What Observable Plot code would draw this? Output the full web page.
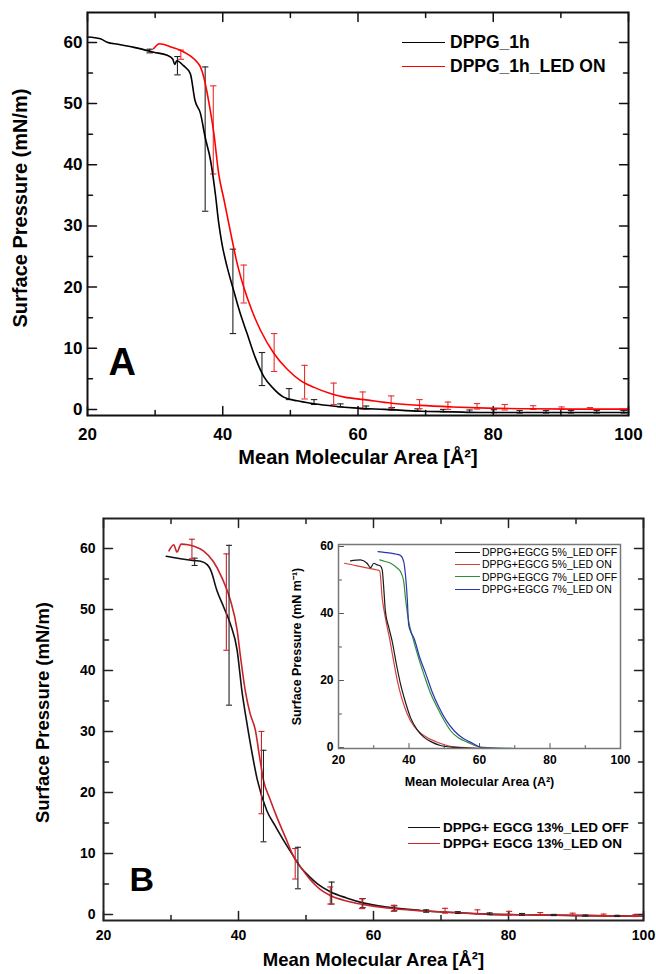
<!DOCTYPE html>
<html><head><meta charset="utf-8">
<script src="https://cdn.jsdelivr.net/npm/d3@7"></script>
<script src="https://cdn.jsdelivr.net/npm/@observablehq/plot@0.6"></script>
<style>
body{margin:0;background:#fff;}
#root{position:relative;width:656px;height:974px;font-family:"Liberation Sans",Arial,sans-serif;overflow:hidden;}
.abs{position:absolute;}
.lrow{position:absolute;display:flex;align-items:center;white-space:nowrap;color:#000;}
.lrow .ln{display:inline-block;}
</style></head>
<body><div id="root"></div>
<script>
// ---------- Panel A data ----------
const aBlackX = [20, 21.9, 22.9, 24.5, 26.9, 29.8, 31.8, 32.6, 32.9, 33.2, 34.2, 35.2, 35.9, 36.7, 37.4, 38.2, 38.9, 39.4, 39.9, 40.6, 41.6, 42.5, 43.6, 44.8, 46.1, 47.5, 49.0, 51, 53, 55.9, 59.9, 64, 69.3, 74, 78, 85, 92, 100];
const aBlackY = [60.9, 60.6, 60.05, 59.7, 59.2, 58.4, 57.9, 57.3, 56.4, 57.0, 56.2, 54.9, 50.5, 48.4, 44.5, 40.7, 35.3, 30.5, 27.0, 23.5, 19.5, 16.0, 12.4, 8.5, 5.3, 3.4, 2.0, 1.4, 1.0, 0.6, 0.2, 0, -0.3, -0.4, -0.5, -0.5, -0.5, -0.5];
const aRedX = [29.8, 30.3, 30.6, 31.2, 32.5, 33.8, 35.2, 36.2, 36.7, 37.2, 37.9, 38.7, 39.4, 40.2, 41.2, 42.1, 43.1, 44.3, 45.6, 47.6, 49.5, 51.5, 53.5, 55.9, 58, 60.9, 65, 69.3, 74, 79.1, 85, 92, 100];
const aRedY = [59.0, 59.6, 59.8, 59.7, 59.2, 58.7, 57.8, 56.8, 56.0, 54.3, 50.5, 45.0, 38.5, 34.2, 28.7, 24.0, 20.0, 16.2, 12.9, 9.1, 6.6, 4.7, 3.6, 2.6, 2.0, 1.6, 1.0, 0.65, 0.4, 0.2, 0.1, 0.05, 0.05];
const aBlackErrX = [29.2, 33.3, 37.4, 41.5, 45.8, 49.8, 53.5, 57.4, 61.2, 65.0, 68.8, 72.6, 76.5, 80.1, 83.9, 87.8, 91.5, 95.3, 99.3];
const aBlackErrY = [58.6, 56.2, 44.2, 19.3, 6.6, 2.5, 1.2, 0.65, 0.3, 0.1, -0.1, -0.2, -0.3, -0.3, -0.4, -0.4, -0.4, -0.4, -0.4];
const aBlackErrE = [0.3, 1.5, 11.8, 6.9, 2.7, 0.9, 0.4, 0.25, 0.25, 0.2, 0.2, 0.2, 0.2, 0.25, 0.2, 0.2, 0.2, 0.2, 0.2];
const aRedErrX = [33.8, 38.6, 43.1, 47.6, 52.1, 56.4, 60.7, 64.9, 69.1, 73.3, 77.6, 81.7, 85.9, 90.1, 94.3];
const aRedErrY = [58.0, 45.7, 20.5, 9.3, 4.45, 2.55, 1.45, 1.2, 0.85, 0.6, 0.5, 0.35, 0.3, 0.2, 0.15];
const aRedErrE = [0.75, 7.2, 3.1, 3.1, 2.75, 1.75, 1.4, 1.0, 0.75, 0.6, 0.45, 0.45, 0.3, 0.2, 0.15];
const aSeries = ["DPPG_1h", "DPPG_1h_LED ON"];

// ---------- Panel B data ----------
const bBlackX = [29.3, 31.4, 33.5, 34.4, 35.4, 35.9, 36.8, 37.8, 38.8, 39.8, 40.5, 41.3, 42.0, 42.8, 44.2, 45.5, 46.7, 48.0, 49.2, 50.5, 51.7, 53.6, 56, 58.6, 62, 67, 72, 76.8, 85, 92, 100];
const bBlackY = [58.7, 58.3, 58.0, 57.9, 57.3, 56.4, 53.1, 50.4, 47.6, 43.3, 36.7, 31.0, 26.5, 22.0, 17.0, 14.4, 12.1, 9.8, 7.75, 6.2, 5.0, 3.7, 2.7, 1.85, 1.2, 0.65, 0.3, 0.05, -0.1, -0.2, -0.3];
const bRedX = [29.7, 30.4, 30.9, 31.5, 32.5, 33.5, 34.8, 36.3, 37.5, 38.8, 39.8, 40.3, 41.0, 41.7, 42.5, 43.1, 43.7, 44.7, 45.7, 47.0, 48.2, 49.5, 50.7, 52.1, 53.6, 56, 58.6, 62, 67, 72, 76.8, 85, 92, 100];
const bRedY = [59.6, 60.6, 59.4, 60.7, 60.6, 60.3, 59.6, 57.8, 55.3, 51.5, 46.6, 42.2, 36.7, 33.0, 30.2, 26.0, 22.0, 18.8, 15.9, 12.5, 9.4, 7.3, 5.6, 4.1, 3.1, 2.2, 1.6, 1.05, 0.6, 0.3, 0.05, -0.1, -0.2, -0.3];
const bBlackErrX = [33.5, 38.6, 43.7, 48.8, 53.8, 58.4, 63.1, 67.8, 72.5, 77.2, 82.0, 86.7, 91.4, 96.1];
const bBlackErrY = [57.8, 47.4, 19.4, 7.6, 3.5, 1.85, 1.0, 0.55, 0.3, 0.1, 0, -0.1, -0.2, -0.25];
const bBlackErrE = [0.6, 13.1, 7.5, 3.4, 1.8, 0.75, 0.4, 0.2, 0.15, 0.15, 0.15, 0.1, 0.1, 0.1];
const bRedErrX = [33.1, 38.2, 43.4, 48.4, 53.6, 58.3, 63.0, 70.6, 75.4, 80.1, 84.7, 89.5, 94.1, 98.8];
const bRedErrY = [59.9, 51.2, 23.25, 8.3, 3.1, 1.75, 1.0, 0.6, 0.4, 0.2, 0.1, 0, -0.1, -0.2];
const bRedErrE = [1.6, 7.9, 6.75, 2.5, 1.4, 0.8, 0.5, 0.4, 0.35, 0.3, 0.2, 0.2, 0.15, 0.15];
const bSeries = ["DPPG+ EGCG 13%_LED OFF", "DPPG+ EGCG 13%_LED ON"];

// ---------- Inset data ----------
const iBlackX = [23.4, 26.2, 28.1, 29.1, 30.0, 31.0, 31.9, 32.4, 32.9, 33.3, 34.3, 35.2, 36.4, 37.6, 39.0, 40.4, 42.2, 44.2, 46.5, 48.9, 52, 55.5, 60, 70, 85, 100];
const iBlackY = [55.7, 56.0, 55.0, 53.7, 55.0, 54.5, 54.2, 53.0, 46.6, 40.7, 35.7, 31.8, 25.0, 18.9, 13.5, 9.0, 5.5, 3.1, 1.6, 0.6, 0.1, -0.1, -0.3, -0.3, -0.3, -0.3];
const iRedX = [21.7, 25, 28, 31.0, 31.7, 32.4, 33.3, 34.5, 35.6, 36.7, 38.0, 39.5, 41.5, 44.2, 47.5, 50.8, 53.5, 57, 65, 80, 100];
const iRedY = [55.0, 54.3, 53.6, 53.0, 52.7, 44.6, 38.7, 32.5, 26.0, 19.9, 14.5, 10.0, 6.2, 3.6, 1.8, 0.6, 0.1, -0.1, -0.3, -0.3, -0.3];
const iGreenX = [31.7, 33.0, 34.8, 36.7, 37.6, 38.5, 39.0, 39.9, 40.9, 42.5, 44.2, 46.0, 48.0, 50.0, 51.8, 54.0, 56.5, 60.3, 70, 85, 100];
const iGreenY = [56.0, 55.6, 55.0, 53.5, 52.5, 49.6, 44.6, 37.7, 33.5, 27.5, 21.9, 16.5, 12.0, 8.0, 5.0, 2.9, 1.6, 0.1, -0.3, -0.3, -0.3];
const iBlueX = [31.2, 32.5, 34.8, 36.5, 37.6, 38.5, 39.0, 39.5, 39.9, 40.5, 41.4, 43.0, 44.8, 46.6, 48.5, 50.6, 52.8, 55.0, 57.4, 61, 70, 85, 100];
const iBlueY = [58.5, 58.3, 58.0, 57.7, 57.3, 55.5, 51.5, 44.6, 36.7, 34.5, 32.7, 27.0, 21.9, 16.5, 12.0, 8.0, 5.0, 3.0, 1.6, -0.1, -0.3, -0.3, -0.3];
const iSeries = ["DPPG+EGCG 5%_LED OFF", "DPPG+EGCG 5%_LED ON", "DPPG+EGCG 7%_LED OFF", "DPPG+EGCG 7%_LED ON"];

// ---------- tick values ----------
const xMajor = [20, 40, 60, 80, 100];
const xMinor = [30, 50, 70, 90];
const yMajorAB = [0, 10, 20, 30, 40, 50, 60];
const yMinorAB = [5, 15, 25, 35, 45, 55];
const yMajorI = [0, 20, 40, 60];
const yMinorI = [10, 30, 50];

const FONT = '"Liberation Sans", Arial, Helvetica, sans-serif';
const zip = (xs, ys) => xs.map((x, i) => ({x, y: ys[i]}));
const zipE = (xs, ys, es) => xs.map((x, i) => ({x, y: ys[i], e: es[i]}));
const capSymbol = {draw(ctx, size) { const r = Math.sqrt(size / Math.PI); ctx.moveTo(-r, 0); ctx.lineTo(r, 0); }};
const tickShape = {draw(ctx, l) { ctx.moveTo(0, 0); ctx.lineTo(0, -l); }};

function errMarks(rows, color, capR, sw) {
  return [
    Plot.ruleX(rows, {x: "x", y1: d => d.y - d.e, y2: d => d.y + d.e, stroke: color, strokeWidth: sw}),
    Plot.dot(rows, {x: "x", y: d => d.y - d.e, r: capR, symbol: capSymbol, stroke: color, strokeWidth: sw, fill: "none"}),
    Plot.dot(rows, {x: "x", y: d => d.y + d.e, r: capR, symbol: capSymbol, stroke: color, strokeWidth: sw, fill: "none"})
  ];
}

// inward ticks drawn as vectors anchored on the frame edge
const sideRot = {bottom: 0, top: 180, left: 90, right: -90};
function tickAxes(sides, xMaj, xMin, yMaj, yMin, maj, min, color, sw) {
  const m = [];
  for (const s of sides) {
    const isX = s === "bottom" || s === "top";
    for (const [vals, len] of [[isX ? xMaj : yMaj, maj], [isX ? xMin : yMin, min]]) {
      m.push(Plot.vector(vals, {
        [isX ? "x" : "y"]: d => d, frameAnchor: s, length: len, rotate: sideRot[s],
        anchor: "start", shape: tickShape, stroke: color, strokeWidth: sw
      }));
    }
  }
  return m;
}

const root = document.getElementById("root");
function place(el, left, top) {
  const d = document.createElement("div");
  d.className = "abs"; d.style.left = left + "px"; d.style.top = top + "px";
  d.appendChild(el); root.appendChild(d); return d;
}
function legendRow(left, y, lineW, lineH, color, text, fontSize, weight, gap) {
  const r = document.createElement("div");
  r.className = "lrow";
  r.style.left = left + "px"; r.style.top = (y - 12) + "px"; r.style.height = "24px";
  r.style.fontSize = fontSize + "px"; r.style.fontWeight = weight;
  const ln = document.createElement("span");
  ln.className = "ln"; ln.style.width = lineW + "px"; ln.style.height = "0px";
  ln.style.borderTop = lineH + "px solid " + color; ln.style.marginRight = gap + "px";
  const t = document.createElement("span"); t.textContent = text;
  r.appendChild(ln); r.appendChild(t); root.appendChild(r);
}

// ---------- Panel A ----------
const plotA = Plot.plot({
  width: 656, height: 487, marginLeft: 87, marginRight: 28, marginTop: 12, marginBottom: 72,
  x: {domain: [20, 100]}, y: {domain: [-1, 64.9]},
  style: {fontFamily: FONT, background: "transparent", overflow: "visible", color: "#000"},
  marks: [
    ...tickAxes(["bottom", "top", "left", "right"], xMajor, xMinor, yMajorAB, yMinorAB, 9, 5, "#111", 1.5),
    Plot.axisX({anchor: "bottom", ticks: xMajor, tickSize: 0, tickPadding: 12, fontSize: 17, fontWeight: "bold", label: null}),
    Plot.axisY({anchor: "left", ticks: yMajorAB, tickSize: 0, tickPadding: 5, fontSize: 17, fontWeight: "bold", label: null}),
    ...errMarks(zipE(aBlackErrX, aBlackErrY, aBlackErrE), "#222", 3.2, 1.1),
    ...errMarks(zipE(aRedErrX, aRedErrY, aRedErrE), "#e8302f", 3.2, 1.1),
    Plot.line(zip(aBlackX, aBlackY), {x: "x", y: "y", stroke: "#000", strokeWidth: 1.6, curve: "monotone-x"}),
    Plot.line(zip(aRedX, aRedY), {x: "x", y: "y", stroke: "#ff0000", strokeWidth: 1.6, curve: "monotone-x"}),
    Plot.frame({stroke: "#111", strokeWidth: 2}),
    Plot.text(["A"], {text: d => d, frameAnchor: "bottom-left", dx: 21, dy: -41, textAnchor: "start", fontSize: 38, fontWeight: "bold", fill: "#000"}),
    Plot.text(["Mean Molecular Area [Å²]"], {text: d => d, frameAnchor: "bottom", dy: 48, fontSize: 20, fontWeight: "bold", fill: "#000"}),
    Plot.text(["Surface Pressure (mN/m)"], {text: d => d, frameAnchor: "left", textAnchor: "middle", dx: -67, dy: -6, rotate: -90, fontSize: 20, fontWeight: "bold", fill: "#000"})
  ]
});
place(plotA, 0, 0);
legendRow(402, 42, 43, 1.5, "#000", aSeries[0], 17.5, "bold", 5);
legendRow(402, 66, 43, 1.5, "#ff0000", aSeries[1], 17.5, "bold", 5);

// ---------- Panel B ----------
const plotB = Plot.plot({
  width: 656, height: 487, marginLeft: 103, marginRight: 13, marginTop: 31, marginBottom: 54,
  x: {domain: [20, 100]}, y: {domain: [-1, 64.9]},
  style: {fontFamily: FONT, background: "transparent", overflow: "visible", color: "#000"},
  marks: [
    ...tickAxes(["bottom", "top", "left", "right"], xMajor, xMinor, yMajorAB, yMinorAB, 9, 5, "#222", 1.5),
    Plot.axisX({anchor: "bottom", ticks: xMajor, tickSize: 0, tickPadding: 10, fontSize: 14, fontWeight: "bold", label: null}),
    Plot.axisY({anchor: "left", ticks: yMajorAB, tickSize: 0, tickPadding: 8, fontSize: 14, fontWeight: "bold", label: null}),
    Plot.line(zip(bBlackX, bBlackY), {x: "x", y: "y", stroke: "#111", strokeWidth: 1.6, curve: "monotone-x"}),
    Plot.line(zip(bRedX, bRedY), {x: "x", y: "y", stroke: "#c8232b", strokeWidth: 1.6, curve: "monotone-x"}),
    ...errMarks(zipE(bBlackErrX, bBlackErrY, bBlackErrE), "#222", 3, 1.1),
    ...errMarks(zipE(bRedErrX, bRedErrY, bRedErrE), "#c8232b", 3, 1.1),
    Plot.frame({stroke: "#222", strokeWidth: 2}),
    Plot.text(["B"], {text: d => d, frameAnchor: "bottom-left", dx: 26, dy: -30, textAnchor: "start", fontSize: 34, fontWeight: "bold", fill: "#000"}),
    Plot.text(["Mean Molecular Area [Å²]"], {text: d => d, frameAnchor: "bottom", dy: 45, fontSize: 18.5, fontWeight: "bold", fill: "#000"}),
    Plot.text(["Surface Pressure (mN/m)"], {text: d => d, frameAnchor: "left", textAnchor: "middle", dx: -60, dy: -7, rotate: -90, fontSize: 18.5, fontWeight: "bold", fill: "#000"})
  ]
});
place(plotB, 0, 487);
legendRow(408, 827, 32, 1.8, "#111", bSeries[0], 13.5, "bold", 3);
legendRow(408, 843, 32, 1.8, "#c8232b", bSeries[1], 13.5, "bold", 3);

// ---------- Inset ----------
const iColors = ["#1a1a1a", "#d2403c", "#2f8f3a", "#2c33b0"];
const plotI = Plot.plot({
  width: 342, height: 259, marginLeft: 56, marginRight: 4, marginTop: 8, marginBottom: 47,
  x: {domain: [20, 100]}, y: {domain: [-0.3, 60.6]},
  style: {fontFamily: FONT, background: "transparent", overflow: "visible", color: "#000"},
  marks: [
    ...tickAxes(["bottom", "left"], xMajor, xMinor, yMajorI, yMinorI, 5, 3, "#555", 1),
    Plot.axisX({anchor: "bottom", ticks: xMajor, tickSize: 0, tickPadding: 7, fontSize: 12, fontWeight: "bold", label: null}),
    Plot.axisY({anchor: "left", ticks: yMajorI, tickSize: 0, tickPadding: 5, fontSize: 12, fontWeight: "bold", label: null}),
    Plot.line(zip(iGreenX, iGreenY), {x: "x", y: "y", stroke: iColors[2], strokeWidth: 1.2, curve: "monotone-x"}),
    Plot.line(zip(iBlueX, iBlueY), {x: "x", y: "y", stroke: iColors[3], strokeWidth: 1.2, curve: "monotone-x"}),
    Plot.line(zip(iRedX, iRedY), {x: "x", y: "y", stroke: iColors[1], strokeWidth: 1.2, curve: "monotone-x"}),
    Plot.line(zip(iBlackX, iBlackY), {x: "x", y: "y", stroke: iColors[0], strokeWidth: 1.2, curve: "monotone-x"}),
    Plot.frame({stroke: "#777", strokeWidth: 1.5}),
    Plot.text(["Mean Molecular Area (A²)"], {text: d => d, frameAnchor: "bottom", dy: 37, fontSize: 12.5, fontWeight: "bold", fill: "#000"}),
    Plot.text(["Surface Pressure (mN m⁻¹)"], {text: d => d, frameAnchor: "left", textAnchor: "middle", dx: -42, rotate: -90, fontSize: 12.5, fontWeight: "bold", fill: "#000"})
  ]
});
place(plotI, 282, 536);
const iRowsY = [552, 564.3, 576.7, 589];
iSeries.forEach((s, i) => legendRow(455, iRowsY[i], 25, 1.5, iColors[i], s, 10.5, "normal", 2));
</script>
</body></html>
